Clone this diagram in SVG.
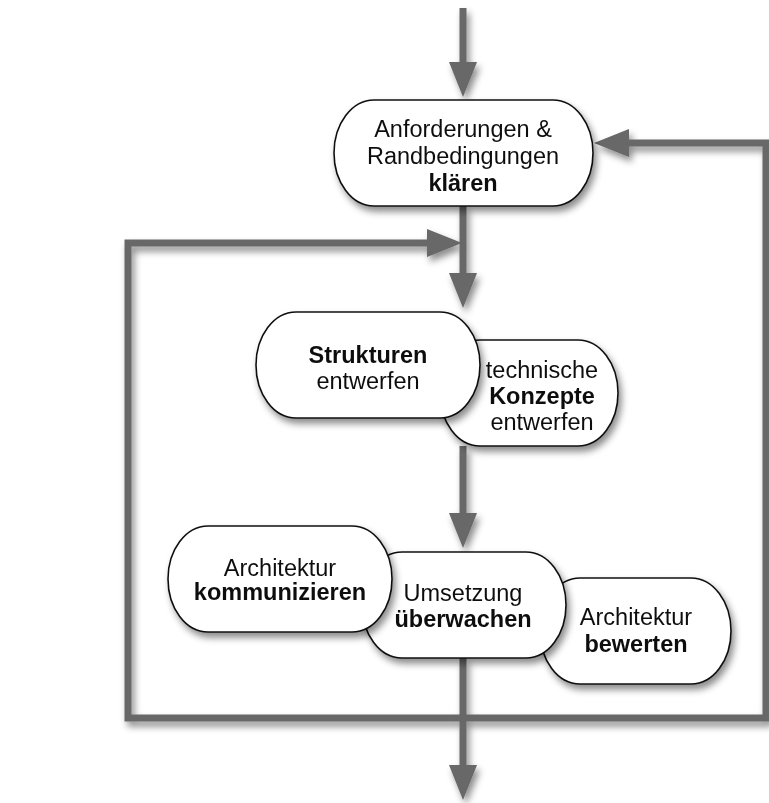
<svg xmlns="http://www.w3.org/2000/svg" width="769" height="803" viewBox="0 0 769 803">
<style>
  .conn { fill: none; stroke: #676767; stroke-width: 7; stroke-linejoin: miter; }
  .node rect { fill: #ffffff; stroke: #111111; stroke-width: 1.6; }
  text { font-family: "Liberation Sans", Arial, sans-serif; font-size: 23.5px; fill: #111111; text-anchor: middle; }
  .b { font-weight: bold; }
</style>
<defs>
  <filter id="sh" x="-20%" y="-20%" width="150%" height="160%">
    <feDropShadow dx="3" dy="5" stdDeviation="3.5" flood-color="#000000" flood-opacity="0.45"/>
  </filter>
  <marker id="ah" markerUnits="userSpaceOnUse" markerWidth="36" markerHeight="30" refX="0" refY="14" orient="auto">
    <path d="M0,0 L35,14 L0,28 Z" fill="#676767"/>
  </marker>
</defs>
<rect width="769" height="803" fill="#ffffff"/>
<g id="connectors" filter="url(#sh)">
  <path class="conn" d="M463,8 V62" marker-end="url(#ah)"/>
  <path class="conn" d="M463,206 V273" marker-end="url(#ah)"/>
  <path class="conn" d="M463,446 V513" marker-end="url(#ah)"/>
  <path class="conn" d="M463,658 V765" marker-end="url(#ah)"/>
  <path class="conn" d="M463,718 H128 V243 H427" marker-end="url(#ah)"/>
  <path class="conn" d="M463,718 H766 V143 H629" marker-end="url(#ah)"/>
</g>
<g id="n-klaeren" class="node" filter="url(#sh)">
  <rect x="334" y="100" width="259" height="106" rx="40" ry="53"/>
  <text x="463" y="137">Anforderungen &amp;</text>
  <text x="463" y="164">Randbedingungen</text>
  <text x="463" y="191" class="b">klären</text>
</g>
<g id="n-konzepte" class="node" filter="url(#sh)">
  <rect x="440" y="340" width="178" height="106" rx="40" ry="53"/>
  <text x="542" y="378">technische</text>
  <text x="542" y="404" class="b">Konzepte</text>
  <text x="542" y="430">entwerfen</text>
</g>
<g id="n-strukturen" class="node" filter="url(#sh)">
  <rect x="256" y="312" width="224" height="106" rx="40" ry="53"/>
  <text x="368" y="363" class="b">Strukturen</text>
  <text x="368" y="389">entwerfen</text>
</g>
<g id="n-bewerten" class="node" filter="url(#sh)">
  <rect x="540" y="578" width="191" height="106" rx="40" ry="53"/>
  <text x="636" y="625">Architektur</text>
  <text x="636" y="652" class="b">bewerten</text>
</g>
<g id="n-ueberwachen" class="node" filter="url(#sh)">
  <rect x="362" y="552" width="204" height="106" rx="40" ry="53"/>
  <text x="463" y="601">Umsetzung</text>
  <text x="463" y="627" class="b">überwachen</text>
</g>
<g id="n-kommunizieren" class="node" filter="url(#sh)">
  <rect x="168" y="526" width="224" height="106" rx="40" ry="53"/>
  <text x="280" y="576">Architektur</text>
  <text x="280" y="600" class="b">kommunizieren</text>
</g>
</svg>
